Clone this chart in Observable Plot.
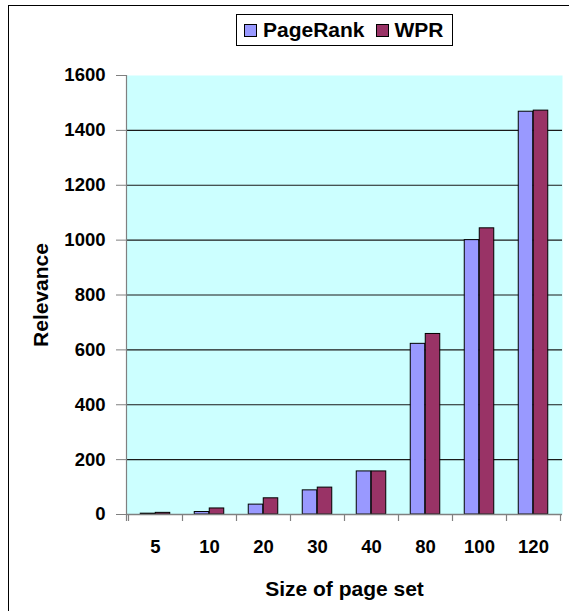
<!DOCTYPE html>
<html>
<head>
<meta charset="utf-8">
<script src="https://cdn.jsdelivr.net/npm/d3@7"></script>
<script src="https://cdn.jsdelivr.net/npm/@observablehq/plot@0.6"></script>
<style>
  body { margin: 0; background: #fff; }
  #wrap { position: relative; width: 569px; height: 611px; overflow: hidden; font-family: "Liberation Sans", Arial, sans-serif; }
  #border { position: absolute; left: 8px; top: 5px; width: 700px; height: 700px; border-top: 1px solid #000; border-left: 1px solid #000; pointer-events: none; }
  #chart { position: absolute; left: 0; top: 0; }
  #legend { position: absolute; left: 236px; top: 14px; width: 215px; height: 30px; border: 1px solid #000; background: #fff;
            display: flex; align-items: center; font-weight: bold; font-size: 21px; color: #000; box-sizing: content-box; }
  #legend .item { display: flex; align-items: center; }
  #legend .sw { width: 11px; height: 11px; border: 1px solid #000; display: inline-block; }
  #chart svg g[aria-label="y-axis tick"], #chart svg g[aria-label="x-axis tick"] { stroke: #808080; }
  #chart svg g[aria-label="y-axis label"], #chart svg g[aria-label="x-axis label"] { font-size: 21px; }
</style>
</head>
<body>
<div id="wrap">
  <div id="chart"></div>
  <div id="border"></div>
  <div id="legend"></div>
</div>
<script>
// ---- data ----
const sizes = ["5", "10", "20", "30", "40", "80", "100", "120"];
const pageRank = [3, 9, 36, 88, 157, 622, 1000, 1468];
const wpr = [6, 22, 59, 98, 157, 658, 1043, 1472];
const seriesNames = ["PageRank", "WPR"];
const seriesColors = ["#9999FF", "#993366"];
const yTicks = [0, 200, 400, 600, 800, 1000, 1200, 1400, 1600];
const gridValues = [200, 400, 600, 800, 1000, 1200, 1400];
const xTitle = "Size of page set";
const yTitle = "Relevance";

const rows = sizes.flatMap((s, i) => [
  {size: s, series: seriesNames[0], value: pageRank[i]},
  {size: s, series: seriesNames[1], value: wpr[i]}
]);

const plot = Plot.plot({
  width: 569,
  height: 611,
  marginLeft: 126,
  marginRight: 7,
  marginTop: 75,
  marginBottom: 97,
  style: {fontFamily: "'Liberation Sans', Arial, sans-serif", fontSize: "18.5px", fontWeight: "bold", color: "#000", background: "transparent"},
  x: {domain: sizes, padding: 0, tickSize: 0, tickPadding: 25, label: xTitle, labelAnchor: "center", labelOffset: 81, labelArrow: "none"},
  y: {domain: [0, 1600], ticks: yTicks, tickSize: 10, tickPadding: 11, label: yTitle, labelAnchor: "center", labelOffset: 93, labelArrow: "none", tickFormat: d => String(d)},
  color: {domain: seriesNames, range: seriesColors},
  marks: [
    Plot.frame({fill: "#CCFFFF", stroke: null}),
    Plot.ruleY(gridValues, {stroke: "#1a1a1a", strokeWidth: 1.2}),
    Plot.barY(rows.filter(d => d.series === seriesNames[0]), {x: "size", y: "value", fill: "series", stroke: "#000", strokeWidth: 1, insetLeft: 12.25, insetRight: 27.25}),
    Plot.barY(rows.filter(d => d.series === seriesNames[1]), {x: "size", y: "value", fill: "series", stroke: "#000", strokeWidth: 1, insetLeft: 27.25, insetRight: 12.25}),
    Plot.ruleY([0], {stroke: "#808080", strokeWidth: 1.5})
  ]
});

// category boundary ticks and left axis line drawn from the plot's own scales
const xs = plot.scale("x");
const ys = plot.scale("y");
const y0 = ys.apply(0);
const yTop = ys.apply(1600);
const bounds = xs.domain.map(d => xs.apply(d)).concat([xs.apply(xs.domain[xs.domain.length - 1]) + xs.step]);
const g = d3.select(plot).append("g").attr("stroke", "#808080").attr("stroke-width", 1.2);
g.append("line").attr("x1", Math.round(xs.range[0]) + 0.5).attr("x2", Math.round(xs.range[0]) + 0.5)
  .attr("y1", yTop).attr("y2", y0 + 7);
bounds.forEach(b => {
  g.append("line").attr("x1", Math.round(b) + 0.5).attr("x2", Math.round(b) + 0.5).attr("y1", y0).attr("y2", y0 + 7);
});

document.getElementById("chart").appendChild(plot);

// legend
const legend = d3.select("#legend");
seriesNames.forEach((name, i) => {
  const item = legend.append("div").attr("class", "item")
    .style("margin-left", i === 0 ? "7px" : "11px");
  item.append("span").attr("class", "sw").style("background", seriesColors[i]);
  item.append("span").style("margin-left", "6px").text(name);
});
</script>
</body>
</html>
